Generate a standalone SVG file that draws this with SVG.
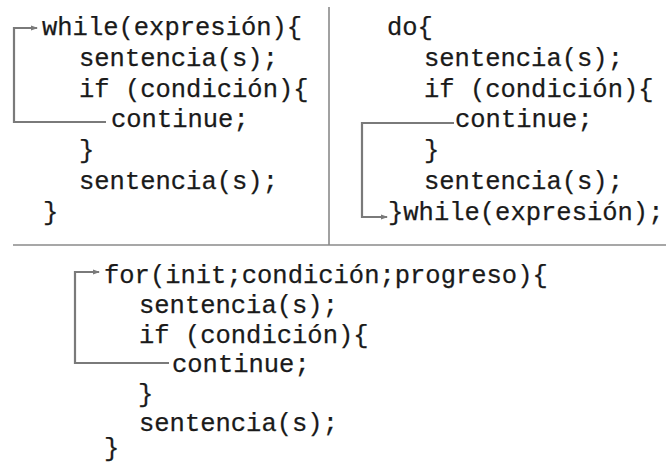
<svg xmlns="http://www.w3.org/2000/svg" width="666" height="464" viewBox="0 0 666 464">
<style>
text{font-family:"Liberation Mono","Courier New",monospace;font-size:25.5px;fill:#1a1a1a;stroke:#1a1a1a;stroke-width:0.25}
.div{stroke:#8a8a8a;stroke-width:1.6;fill:none}
.con{stroke:#7a7a7a;stroke-width:2.2;fill:none}
</style>
<defs>
<marker id="ah" markerWidth="8" markerHeight="8" refX="6" refY="4" orient="auto" markerUnits="userSpaceOnUse">
<path d="M0,1.5 L7,4 L0,6.5 z" fill="#7a7a7a"/>
</marker>
</defs>
<rect width="666" height="464" fill="#ffffff"/>
<g id="dividers">
<line class="div" x1="329" y1="7" x2="329" y2="245"/>
<line class="div" x1="13" y1="245" x2="666" y2="245"/>
</g>
<g id="while-block">
<text x="42" y="35">while(expresión){</text>
<text x="79" y="65.8">sentencia(s);</text>
<text x="79" y="96.6">if (condición){</text>
<text x="111" y="126.5">continue;</text>
<text x="79" y="158">}</text>
<text x="79" y="189">sentencia(s);</text>
<text x="43" y="219.8">}</text>
</g>
<g id="do-block">
<text x="387" y="35">do{</text>
<text x="424" y="65.8">sentencia(s);</text>
<text x="424" y="96.6">if (condición){</text>
<text x="455" y="127">continue;</text>
<text x="424" y="158">}</text>
<text x="424" y="189">sentencia(s);</text>
<text x="388" y="220">}while(expresión);</text>
</g>
<g id="for-block">
<text x="104" y="283">for(init;condición;progreso){</text>
<text x="139" y="312.8">sentencia(s);</text>
<text x="139" y="342.6">if (condición){</text>
<text x="172" y="372.4">continue;</text>
<text x="138" y="402.2">}</text>
<text x="139" y="431">sentencia(s);</text>
<text x="104" y="456">}</text>
</g>
<g id="connectors">
<path class="con" d="M106,122 H14 V28 H37" marker-end="url(#ah)"/>
<path class="con" d="M454,123 H362 V217 H387" marker-end="url(#ah)"/>
<path class="con" d="M169,363 H75 V272 H99" marker-end="url(#ah)"/>
</g>
</svg>
